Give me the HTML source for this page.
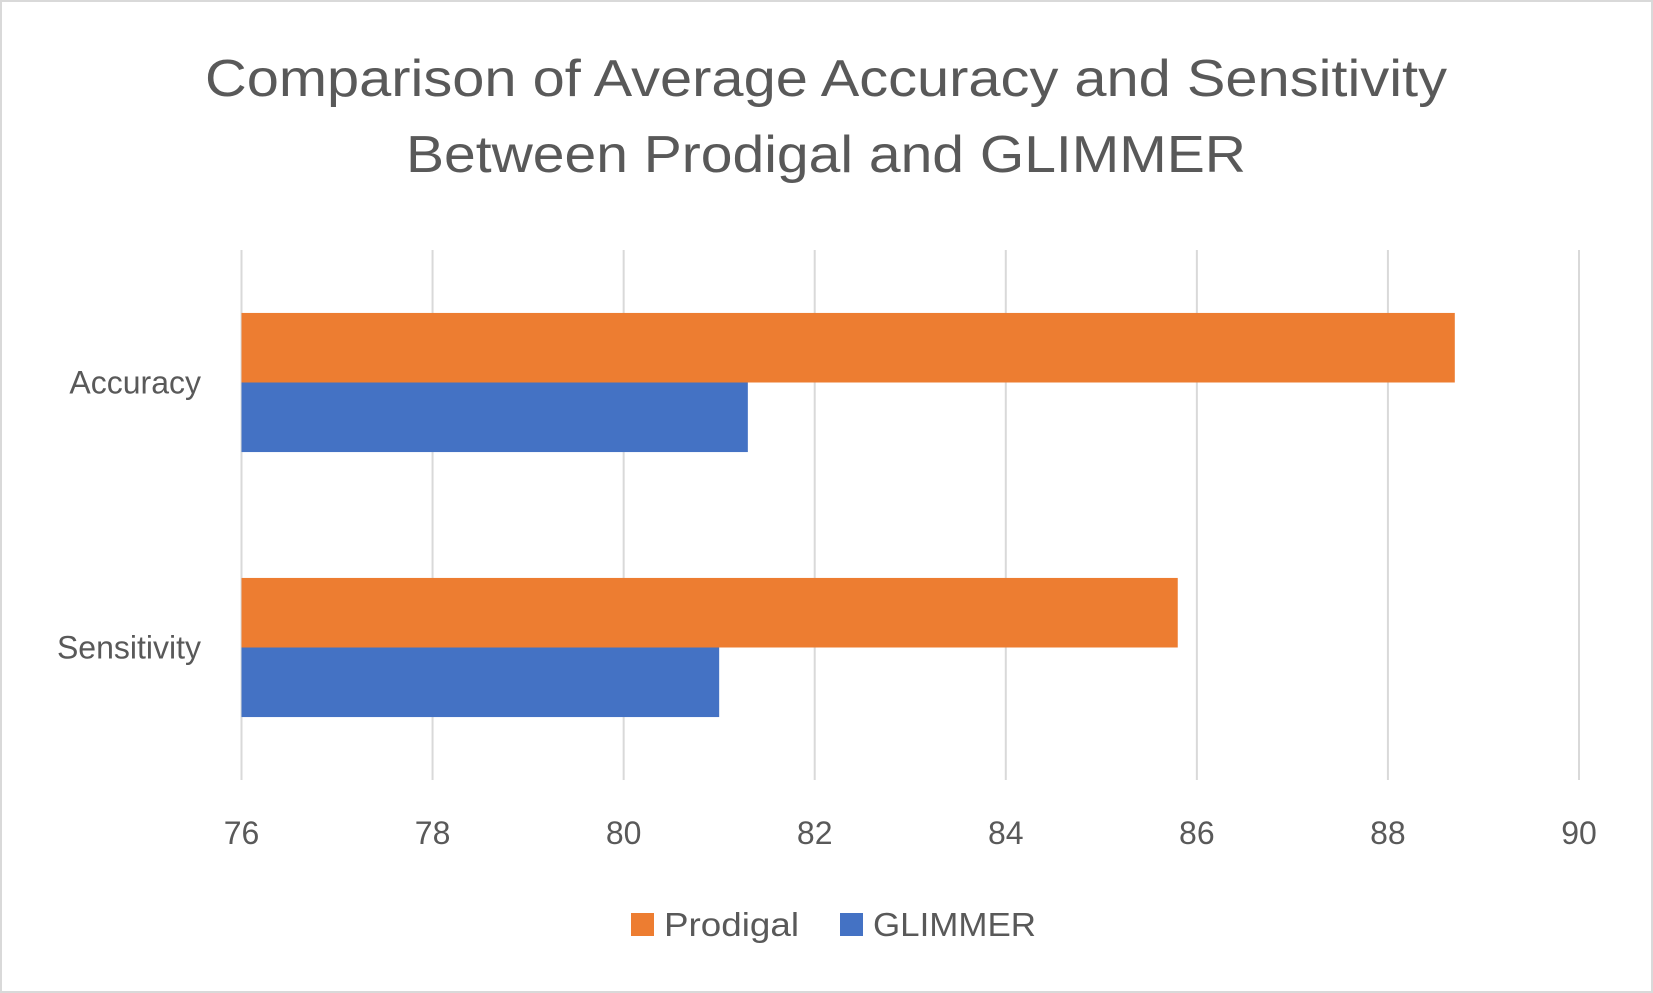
<!DOCTYPE html>
<html><head><meta charset="utf-8"><style>
body{margin:0;background:#fff}
svg{display:block;font-family:"Liberation Sans",sans-serif}
</style></head><body>
<svg id="chart" width="1653" height="993" viewBox="0 0 1653 993">
<rect x="1" y="1" width="1651" height="991" fill="#fff" stroke="#d9d9d9" stroke-width="2"/>
<text x="826" y="96" text-anchor="middle" font-size="52" fill="#595959" textLength="1242" lengthAdjust="spacingAndGlyphs">Comparison of Average Accuracy and Sensitivity</text>
<text x="826" y="172" text-anchor="middle" font-size="52" fill="#595959" textLength="840" lengthAdjust="spacingAndGlyphs">Between Prodigal and GLIMMER</text>
<g id="grid"></g><g id="bars"></g><g id="labels"></g>
<g>
<rect x="631" y="913" width="23" height="23" fill="#ed7d31"/>
<text x="664" y="936" font-size="33" fill="#595959" textLength="135" lengthAdjust="spacingAndGlyphs">Prodigal</text>
<rect x="840" y="913" width="23" height="23" fill="#4472c4"/>
<text x="873" y="936" font-size="33" fill="#595959" textLength="163" lengthAdjust="spacingAndGlyphs">GLIMMER</text>
</g>
</svg>
<script>
const categories = ["Accuracy", "Sensitivity"];
const prodigalValues = [88.7, 85.8];
const glimmerValues = [81.3, 81.0];
const tickLabels = [76, 78, 80, 82, 84, 86, 88, 90];
const NS = "http://www.w3.org/2000/svg";
const xMin = 76, xMax = 90, plotLeft = 241.5, plotRight = 1579, plotTop = 250, plotBottom = 780;
const xs = v => plotLeft + (v - xMin) / (xMax - xMin) * (plotRight - plotLeft);
const band = (plotBottom - plotTop) / categories.length;
const barH = band * 0.2625;
function mk(tag, attrs, parent){const e=document.createElementNS(NS,tag);for(const k in attrs)e.setAttribute(k,attrs[k]);document.getElementById(parent).appendChild(e);return e;}
tickLabels.forEach(t=>{
  const l=mk("line",{x1:xs(t),x2:xs(t),y1:plotTop,y2:plotBottom,stroke:"#d9d9d9","stroke-width":2},"grid");
  
  
  const tx=mk("text",{x:xs(t),y:844,"text-anchor":"middle","font-size":32,fill:"#595959"},"labels");
  tx.textContent=t;
  
  
});
categories.forEach((c,i)=>{
  const cy=plotTop+band*(i+0.5);
  const b1=mk("rect",{x:xs(xMin),y:cy-barH,width:xs(prodigalValues[i])-xs(xMin),height:barH,fill:"#ed7d31"},"bars");
  
  
  const b2=mk("rect",{x:xs(xMin),y:cy,width:xs(glimmerValues[i])-xs(xMin),height:barH,fill:"#4472c4"},"bars");
  
  
  const tx=mk("text",{x:201,y:cy+11,"text-anchor":"end","font-size":32,fill:"#595959"},"labels");
  tx.textContent=c;
  
  
});
</script>
</body></html>
